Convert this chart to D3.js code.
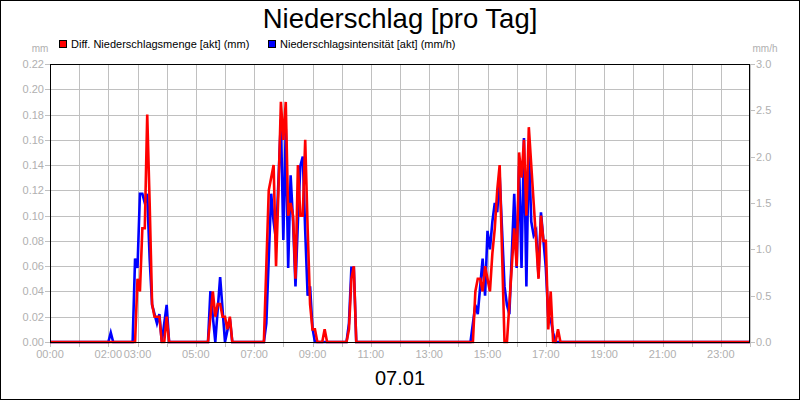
<!DOCTYPE html>
<html>
<head>
<meta charset="utf-8">
<script src="https://cdn.jsdelivr.net/npm/d3@7/dist/d3.min.js"></script>
<style>
  html, body { margin: 0; padding: 0; background: #fff; }
  svg { display: block; }
  text { font-family: "Liberation Sans", Arial, sans-serif; }
</style>
</head>
<body>
<svg id="chart" width="800" height="400"></svg>
<script>
// ---------- DATA ----------
const title = "Niederschlag [pro Tag]";
const dateLabel = "07.01";
const seriesNames = ["Diff. Niederschlagsmenge [akt] (mm)", "Niederschlagsintensität [akt] (mm/h)"];
const seriesColors = ["#ff0000", "#0000ff"];
const leftUnit = "mm";
const rightUnit = "mm/h";

const xTickLabels = ["00:00","02:00","03:00","05:00","07:00","09:00","11:00","13:00","15:00","17:00","19:00","21:00","23:00"];
const xGridHours = [0,1,2,3,4,5,6,7,8,9,10,11,12,13,14,15,16,17,18,19,20,21,22,23,24];
const leftTicks = [0.00,0.02,0.04,0.06,0.08,0.10,0.12,0.14,0.16,0.18,0.20,0.22];
const rightTicks = [0.0,0.5,1.0,1.5,2.0,2.5,3.0];

const redTimes = ["00:00","02:55","03:00","03:05","03:10","03:15","03:20","03:25","03:30","03:35","03:40","03:45","03:50","03:55","04:00","04:05",
  "05:25","05:35","05:40","05:45","05:50","05:55","06:00","06:05","06:10","06:15",
  "07:20","07:25","07:30","07:35","07:40","07:45","07:50","07:55","08:00","08:05","08:10","08:15","08:20","08:25","08:30","08:35","08:40","08:45","08:50","08:55","09:00","09:05","09:10","09:20","09:25","09:30",
  "10:10","10:15","10:20","10:25","10:30",
  "14:30","14:35","14:40","14:45","14:50","14:55","15:00","15:05","15:10","15:15","15:20","15:25","15:30","15:35","15:40","15:45","15:50","15:55","16:00","16:05","16:10","16:15","16:20","16:25","16:30","16:35","16:40","16:45","16:50","16:55","17:00","17:05","17:10","17:15","17:20","17:25","17:30","24:00"];
const redValues = [0,0,0.05,0.04,0.09,0.09,0.18,0.11,0.03,0.02,0.02,0.02,0,0,0.02,0,
  0,0.04,0.02,0.03,0.03,0.02,0.02,0.01,0.02,0,
  0,0.06,0.12,0.13,0.14,0.06,0.12,0.19,0.16,0.19,0.10,0.11,0.10,0.05,0.14,0.10,0.10,0.16,0.09,0.03,0.01,0.01,0,0,0.01,0,
  0,0.01,0.05,0.06,0,
  0,0.04,0.05,0.05,0.04,0.06,0.05,0.04,0.07,0.09,0.12,0.14,0.07,0,0,0.03,0.06,0.09,0.06,0.15,0.13,0.16,0.10,0.17,0.14,0.11,0.08,0.05,0.10,0.08,0.08,0.01,0.04,0,0,0.01,0,0];

const blueTimes = ["00:00","02:00","02:05","02:10","02:50","02:55","03:00","03:05","03:10","03:15","03:20","03:25","03:30","03:35","03:40","03:45","03:50","03:55","04:00","04:05",
  "05:25","05:30","05:40","05:50","06:00","06:10","06:15",
  "07:20","07:25","07:35","07:40","07:45","07:55","08:00","08:05","08:10","08:15","08:20","08:25","08:30","08:35","08:40","08:45","08:50","08:55","09:00","09:05",
  "10:10","10:15","10:20","10:25","10:30",
  "14:25","14:35","14:40","14:50","14:55","15:00","15:05","15:10","15:15","15:20","15:25","15:30","15:35","15:40","15:45","15:55","16:00","16:05","16:10","16:15","16:20","16:25","16:30","16:35","16:40","16:45","16:50","16:55","17:00","17:05","17:10","17:15","17:20","24:00"];
const blueValues = [0,0,0.1,0,0,0.9,0.8,1.6,1.6,1.5,1.6,0.9,0.4,0.3,0.2,0.3,0,0.2,0.4,0,
  0,0.55,0,0.7,0,0.25,0,
  0,0.2,1.6,1.3,1.1,2.4,1.1,2.3,0.8,1.8,1.3,0.6,1.3,1.9,2.0,1.2,0.5,0.6,0.15,0,
  0,0.2,0.8,0.8,0,
  0,0.4,0.3,0.9,0.5,1.2,1.0,1.3,1.5,1.4,1.8,1.2,0.6,0.4,0.3,1.6,0.8,1.9,0.8,2.2,0.6,2.1,1.3,1.15,1.2,0.7,1.4,1.1,0.8,0.27,0.25,0.1,0,0];

// ---------- LAYOUT ----------
const W = 800, H = 400;
const plot = { left: 50, right: 750, top: 64, bottom: 342 };
const gridColor = "#c0c0c0";
const labelColor = "#b0b0b0";

const toHours = s => { const [h, m] = s.split(":").map(Number); return h + m / 60; };

const x = d3.scaleLinear().domain([0, 24]).range([plot.left, plot.right]);
const yL = d3.scaleLinear().domain([0, 0.22]).range([plot.bottom, plot.top]);
const yR = d3.scaleLinear().domain([0, 3.0]).range([plot.bottom, plot.top]);

const svg = d3.select("#chart");

svg.append("rect").attr("x", 0.5).attr("y", 0.5).attr("width", W - 1).attr("height", H - 1)
  .attr("fill", "#fff").attr("stroke", "#000");

// grid
const g = svg.append("g");
g.selectAll("line.vg").data(xGridHours).join("line")
  .attr("x1", d => Math.round(x(d)) + 0.5).attr("x2", d => Math.round(x(d)) + 0.5)
  .attr("y1", plot.top).attr("y2", plot.bottom + 5)
  .attr("stroke", gridColor).attr("stroke-width", 1);
g.selectAll("line.hg").data(leftTicks).join("line")
  .attr("x1", plot.left - 5).attr("x2", plot.right)
  .attr("y1", d => Math.round(yL(d)) + 0.5).attr("y2", d => Math.round(yL(d)) + 0.5)
  .attr("stroke", gridColor).attr("stroke-width", 1);
g.selectAll("line.rt").data(rightTicks).join("line")
  .attr("x1", plot.right).attr("x2", plot.right + 5)
  .attr("y1", d => Math.round(yR(d)) + 0.5).attr("y2", d => Math.round(yR(d)) + 0.5)
  .attr("stroke", gridColor).attr("stroke-width", 1);

// axis labels
svg.selectAll("text.yl").data(leftTicks).join("text")
  .attr("x", plot.left - 6).attr("y", d => yL(d) + 4)
  .attr("text-anchor", "end").attr("font-size", 11).attr("fill", labelColor)
  .text(d => d.toFixed(2));
svg.selectAll("text.yr").data(rightTicks).join("text")
  .attr("x", plot.right + 6).attr("y", d => yR(d) + 4)
  .attr("text-anchor", "start").attr("font-size", 11).attr("fill", labelColor)
  .text(d => d.toFixed(1));
svg.selectAll("text.xl").data(xTickLabels).join("text")
  .attr("x", d => x(toHours(d))).attr("y", 358)
  .attr("text-anchor", "middle").attr("font-size", 11).attr("fill", labelColor)
  .text(d => d);

svg.append("text").attr("x", 40).attr("y", 52).attr("text-anchor", "middle")
  .attr("font-size", 10).attr("fill", labelColor).text(leftUnit);
svg.append("text").attr("x", 765).attr("y", 52).attr("text-anchor", "middle")
  .attr("font-size", 10).attr("fill", labelColor).text(rightUnit);

// lines
const redData = redTimes.map((t, i) => ({ t: toHours(t), v: redValues[i] }));
const blueData = blueTimes.map((t, i) => ({ t: toHours(t), v: blueValues[i] }));

svg.append("clipPath").attr("id", "clip").append("rect")
  .attr("x", plot.left).attr("y", plot.top - 2).attr("width", plot.right - plot.left).attr("height", plot.bottom - plot.top + 4);

svg.append("path").datum(blueData)
  .attr("d", d3.line().x(d => x(d.t)).y(d => yR(d.v)))
  .attr("fill", "none").attr("stroke", seriesColors[1]).attr("stroke-width", 2.6)
  .attr("stroke-linejoin", "miter").attr("clip-path", "url(#clip)");
svg.append("path").datum(redData)
  .attr("d", d3.line().x(d => x(d.t)).y(d => yL(d.v)))
  .attr("fill", "none").attr("stroke", seriesColors[0]).attr("stroke-width", 2.6)
  .attr("stroke-linejoin", "miter").attr("clip-path", "url(#clip)");

// plot frame
svg.append("rect").attr("x", plot.left + 0.5).attr("y", plot.top + 0.5)
  .attr("width", plot.right - plot.left - 1).attr("height", plot.bottom - plot.top)
  .attr("fill", "none").attr("stroke", "#000").attr("stroke-width", 1);
svg.append("line").attr("x1", plot.left).attr("x2", plot.right)
  .attr("y1", plot.bottom + 0.5).attr("y2", plot.bottom + 0.5)
  .attr("stroke", "#000").attr("stroke-width", 1);

// title
svg.append("text").attr("x", 400).attr("y", 28).attr("text-anchor", "middle")
  .attr("font-size", 27.5).attr("fill", "#000").text(title);
svg.append("text").attr("x", 400).attr("y", 385).attr("text-anchor", "middle")
  .attr("font-size", 20).attr("fill", "#000").text(dateLabel);

// legend
const legendX = [59, 268];
seriesNames.forEach((name, i) => {
  svg.append("rect").attr("x", legendX[i] + 0.5).attr("y", 40.5).attr("width", 7).attr("height", 7)
    .attr("fill", seriesColors[i]).attr("stroke", "#000").attr("stroke-width", 1);
  svg.append("text").attr("x", legendX[i] + 12).attr("y", 48).attr("font-size", 11)
    .attr("fill", "#000").text(name);
});
</script>
</body>
</html>
